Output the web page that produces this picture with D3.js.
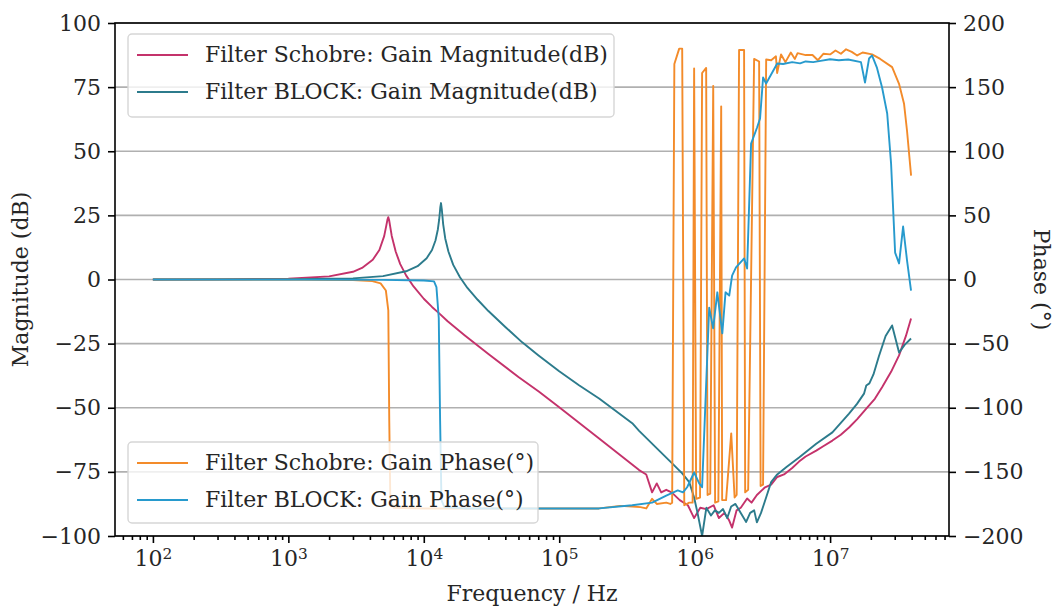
<!DOCTYPE html>
<html>
<head>
<meta charset="utf-8">
<script src="https://cdn.jsdelivr.net/npm/d3@7"></script>
<style>
body { margin: 0; background: #fff; }
svg text { font-family: "DejaVu Serif", serif; fill: #262626; }
</style>
</head>
<body>
<svg width="1057" height="606"></svg>
<script>
// Filter Schobre: magnitude (dB)
var schobreMagFreq = [100, 300, 1000, 2000, 3000, 3500, 4200, 4700, 5100, 5300, 5400, 5470, 5550, 5650, 5800, 6200, 6700, 7400, 8400, 10000, 11500, 13000, 15000, 20000, 30000, 50000, 71000, 100000, 197000, 389000, 439000, 485000, 525000, 566000, 617000, 676000, 776000, 891000, 991000, 1.1e6, 1.22e6, 1.38e6, 1.51e6, 1.66e6, 1.8e6, 1.89e6, 2.04e6, 2.19e6, 2.44e6, 2.63e6, 2.88e6, 3.31e6, 3.67e6, 4.07e6, 4.57e6, 5.25e6, 5.9e6, 6.6e6, 7.9e6, 8.9e6, 1.04e7, 1.2e7, 1.38e7, 1.58e7, 1.85e7, 2.14e7, 2.42e7, 2.82e7, 3.23e7, 3.63e7, 3.96e7];
var schobreMag = [0, 0.05, 0.3, 1.2, 3.0, 4.5, 7.7, 11.5, 16.9, 21.3, 23.5, 24.3, 23.1, 20.6, 17, 10.9, 6, 1.6, -2.7, -7.5, -10.7, -13.2, -16.3, -21.7, -29, -38, -43.8, -49.8, -62, -74.3, -76, -83, -79.5, -83, -82, -83, -86, -88, -93, -89, -89.5, -88, -93, -91, -94, -96.7, -90, -89, -85.4, -87, -84, -81, -80, -77, -76, -73.5, -71, -69, -66.7, -65, -62.8, -60.5, -57.7, -54.5, -50.3, -46.5, -42, -36, -29.6, -22, -15.2];

// Filter BLOCK: magnitude (dB)
var blockMagFreq = [100, 1000, 3000, 5000, 7400, 9000, 10500, 11500, 12200, 12700, 13000, 13250, 13400, 13600, 13900, 14400, 15200, 16500, 18500, 21000, 25000, 30000, 40000, 53300, 70000, 100000, 140000, 197000, 346000, 389000, 547000, 682000, 809000, 912000, 991000, 1.05e6, 1.135e6, 1.22e6, 1.32e6, 1.41e6, 1.51e6, 1.62e6, 1.74e6, 1.86e6, 2.0e6, 2.19e6, 2.4e6, 2.57e6, 2.75e6, 2.88e6, 3.09e6, 3.37e6, 3.67e6, 4.07e6, 4.79e6, 5.9e6, 7.9e6, 1.04e7, 1.38e7, 1.58e7, 1.78e7, 1.85e7, 1.95e7, 2.09e7, 2.29e7, 2.57e7, 2.87e7, 3.23e7, 3.55e7, 3.96e7];
var blockMag = [0, 0.1, 0.45, 1.3, 3.2, 5.2, 8.3, 11.5, 15.2, 19.5, 23.5, 28.2, 29.8, 27.1, 21.6, 16, 10.9, 5.7, 0.9, -3.3, -7.9, -12.3, -18.5, -24.5, -29.5, -35.8, -41.2, -46.4, -56, -59, -66.7, -71.7, -75.6, -79, -85, -91, -100, -89, -92, -90, -91, -89.5, -93, -88.5, -87.5, -91, -94.5, -91, -90, -94.7, -91, -85, -79, -76, -73, -69.4, -64, -59.6, -52.3, -48.5, -44.5, -41.3, -40.5, -37, -30, -22, -17.9, -28.5, -25.5, -23];

// Filter Schobre: phase (deg)
var schobrePhFreq = [100, 1000, 3000, 4170, 4800, 5250, 5470, 5560, 5660, 6000, 10000, 50000, 100000, 197000, 282000, 346000, 398000, 439000, 485000, 525000, 617000, 661000, 682000, 708000, 769000, 809000, 838000, 912000, 966000, 991000, 1.026e6, 1.096e6, 1.135e6, 1.216e6, 1.245e6, 1.303e6, 1.371e6, 1.416e6, 1.496e6, 1.57e6, 1.596e6, 1.706e6, 1.862e6, 1.972e6, 2.042e6, 2.128e6, 2.317e6, 2.36e6, 2.483e6, 2.748e6, 2.992e6, 3.069e6, 3.199e6, 3.373e6, 3.673e6, 3.981e6, 4.064e6, 4.345e6, 4.677e6, 5.129e6, 5.495e6, 5.754e6, 6.607e6, 7.413e6, 8.128e6, 8.913e6, 1e7, 1.096e7, 1.202e7, 1.312e7, 1.445e7, 1.585e7, 1.738e7, 2.042e7, 2.344e7, 2.871e7, 3.228e7, 3.516e7, 3.698e7, 3.963e7];
var schobrePh = [0, -0.1, -0.5, -1.3, -3, -8.6, -24, -110, -172, -178, -178.5, -178.5, -178.5, -178.5, -176.5, -177, -177.5, -178.5, -171, -175, -174, -175, -174, 168, 180, 180, -176, -174, -174, 164.5, -171, -170, 161, 165, -168, -167, 151, -174, -173, 135, -172, -172, -120, -170, -168, 179, 179, -166, -164, 172, 170, -161, -160, 171.5, 171, 174, 161, 175.5, 169.5, 177, 172, 176.5, 175, 175, 171, 176, 175.5, 178.6, 176, 179.5, 177.5, 174.7, 177, 175.5, 172, 165.6, 152.6, 137, 116, 81];

// Filter BLOCK: phase (deg)
var blockPhFreq = [100, 1000, 5000, 10000, 11900, 12400, 12900, 13200, 13500, 14200, 20000, 100000, 197000, 346000, 485000, 617000, 750000, 820000, 880000, 991000, 1.08e6, 1.135e6, 1.28e6, 1.37e6, 1.47e6, 1.6e6, 1.69e6, 1.8e6, 1.89e6, 2.02e6, 2.32e6, 2.44e6, 2.61e6, 2.89e6, 3.04e6, 3.2e6, 3.37e6, 4.07e6, 4.5e6, 5.25e6, 6.0e6, 6.6e6, 7.5e6, 8.5e6, 1e7, 1.16e7, 1.36e7, 1.69e7, 1.81e7, 1.94e7, 2.04e7, 2.22e7, 2.42e7, 2.64e7, 2.82e7, 3.02e7, 3.23e7, 3.46e7, 3.7e7, 3.96e7];
var blockPh = [0, -0.1, -0.3, -0.8, -1.5, -6, -30, -110, -172, -177.5, -178.5, -178.5, -178.5, -176, -174, -168.5, -164.5, -166, -162, -150.5, -159, -162, -22, -38, -10, -42, -10, -12.5, 3, 9.4, 16.4, 8.6, 106, 118.5, 125.5, 157.5, 152.8, 168.4, 168, 169.5, 168.5, 170, 169.5, 170.5, 171.7, 171, 171.5, 169.5, 153.6, 172.3, 174.7, 165, 149.7, 129.4, 90.4, 21, 12.5, 41.3, 14.8, -8.6];

var magTicks = [-100, -75, -50, -25, 0, 25, 50, 75, 100];
var phaseTicks = [-200, -150, -100, -50, 0, 50, 100, 150, 200];
var decadeTicks = [1e2, 1e3, 1e4, 1e5, 1e6, 1e7];

var magLabels = ["Filter Schobre: Gain Magnitude(dB)", "Filter BLOCK: Gain Magnitude(dB)"];
var phaseLabels = ["Filter Schobre: Gain Phase(\u00b0)", "Filter BLOCK: Gain Phase(\u00b0)"];
var magColors = ["#c4326b", "#2c7b8c"];
var phaseColors = ["#f38b2a", "#279acd"];

function init()
{
  var svg = d3.select("svg");
  var left = 115, right = 949, top = 23, bottom = 536;
  var fs = 22;

  // log x with matplotlib style 5% margins
  var allF = schobreMagFreq.concat(blockMagFreq, schobrePhFreq, blockPhFreq);
  var lo = Math.log10(d3.min(allF)), hi = Math.log10(d3.max(allF));
  var pad = (hi - lo) * 0.05;
  var x = d3.scaleLog()
    .domain([Math.pow(10, lo - pad), Math.pow(10, hi + pad)])
    .range([left, right]);
  var yMag = d3.scaleLinear().domain([-100, 100]).range([bottom, top]);
  var yPh = d3.scaleLinear().domain([-200, 200]).range([bottom, top]);

  var minus = function (d) { return d < 0 ? "\u2212" + Math.abs(d) : "" + d; };

  // grid
  svg.append("g").selectAll("line")
    .data(magTicks)
    .enter().append("line")
      .attr("x1", left).attr("x2", right)
      .attr("y1", function (d) { return yMag(d); })
      .attr("y2", function (d) { return yMag(d); })
      .attr("stroke", "#b0b0b0")
      .attr("stroke-width", 1.6);

  svg.append("clipPath").attr("id", "plot")
    .append("rect").attr("x", left).attr("y", top)
    .attr("width", right - left).attr("height", bottom - top);

  var line = function (yScale) {
    return d3.line()
      .x(function (d) { return x(d[0]); })
      .y(function (d) { return yScale(d[1]); });
  };

  // magnitude lines
  var magSeries = [d3.zip(schobreMagFreq, schobreMag), d3.zip(blockMagFreq, blockMag)];
  svg.append("g").attr("clip-path", "url(#plot)")
    .selectAll("path")
    .data(magSeries)
    .enter().append("path")
      .attr("fill", "none")
      .attr("stroke", function (d, i) { return magColors[i]; })
      .attr("stroke-width", 1.9)
      .attr("stroke-linejoin", "round")
      .attr("d", line(yMag));

  legend(svg, 128, 34, 486, 83, magLabels, magColors);

  // phase lines
  var phSeries = [d3.zip(schobrePhFreq, schobrePh), d3.zip(blockPhFreq, blockPh)];
  svg.append("g").attr("clip-path", "url(#plot)")
    .selectAll("path")
    .data(phSeries)
    .enter().append("path")
      .attr("fill", "none")
      .attr("stroke", function (d, i) { return phaseColors[i]; })
      .attr("stroke-width", 1.9)
      .attr("stroke-linejoin", "round")
      .attr("d", line(yPh));

  legend(svg, 128, 442, 410, 81, phaseLabels, phaseColors);

  // frame
  svg.append("rect")
    .attr("x", left).attr("y", top)
    .attr("width", right - left).attr("height", bottom - top)
    .attr("fill", "none").attr("stroke", "#000").attr("stroke-width", 1.6);

  // axes
  var gl = svg.append("g").attr("transform", "translate(" + left + ",0)")
    .call(d3.axisLeft(yMag).tickValues(magTicks).tickSize(7).tickPadding(7).tickFormat(minus));
  var gr = svg.append("g").attr("transform", "translate(" + right + ",0)")
    .call(d3.axisRight(yPh).tickValues(phaseTicks).tickSize(7).tickPadding(7).tickFormat(minus));

  var minor = [];
  for (var e = 1; e <= 7; e++) {
    for (var m = 2; m <= 9; m++) {
      var v = m * Math.pow(10, e);
      if (v > x.domain()[0] && v < x.domain()[1]) minor.push(v);
    }
  }
  var gm = svg.append("g").attr("transform", "translate(0," + bottom + ")")
    .call(d3.axisBottom(x).tickValues(minor).tickSize(4).tickFormat(""));
  var gb = svg.append("g").attr("transform", "translate(0," + bottom + ")")
    .call(d3.axisBottom(x).tickValues(decadeTicks).tickSize(7).tickPadding(7).tickFormat(""));

  gb.selectAll(".tick text")
    .each(function (d) {
      var t = d3.select(this);
      t.text("10");
      t.append("tspan").attr("dy", "-0.45em").attr("font-size", fs * 0.7)
        .text(Math.round(Math.log10(d)));
    });

  [gl, gr, gm, gb].forEach(function (g) {
    g.select(".domain").remove();
    g.selectAll(".tick line").attr("stroke", "#000").attr("stroke-width", 1.6);
    g.selectAll("text").attr("font-size", fs).attr("fill", "#262626")
      .attr("font-family", "DejaVu Serif, serif");
  });
  gb.selectAll("tspan").attr("font-size", fs * 0.7);

  // axis titles
  svg.append("text")
    .attr("transform", "translate(28," + ((top + bottom) / 2) + ") rotate(-90)")
    .attr("text-anchor", "middle")
    .attr("font-size", fs)
    .text("Magnitude (dB)");
  svg.append("text")
    .attr("transform", "translate(1034," + ((top + bottom) / 2) + ") rotate(90)")
    .attr("text-anchor", "middle")
    .attr("font-size", fs)
    .text("Phase (\u00b0)");
  svg.append("text")
    .attr("x", (left + right) / 2).attr("y", 601)
    .attr("text-anchor", "middle")
    .attr("font-size", fs)
    .text("Frequency / Hz");

  function legend(svg, lx, ly, w, h, labels, colors) {
    var g = svg.append("g");
    g.append("rect")
      .attr("x", lx).attr("y", ly).attr("width", w).attr("height", h)
      .attr("rx", 4)
      .attr("fill", "#fff").attr("fill-opacity", 0.8)
      .attr("stroke", "#d6d6d6").attr("stroke-width", 1.4);
    labels.forEach(function (lab, i) {
      var yy = ly + 21 + i * 37;
      g.append("line")
        .attr("x1", lx + 9).attr("x2", lx + 60)
        .attr("y1", yy).attr("y2", yy)
        .attr("stroke", colors[i]).attr("stroke-width", 1.9);
      g.append("text")
        .attr("x", lx + 77).attr("y", yy + 7)
        .attr("font-size", fs)
        .text(lab);
    });
  }
}
window.onload = init;
</script>
</body>
</html>
